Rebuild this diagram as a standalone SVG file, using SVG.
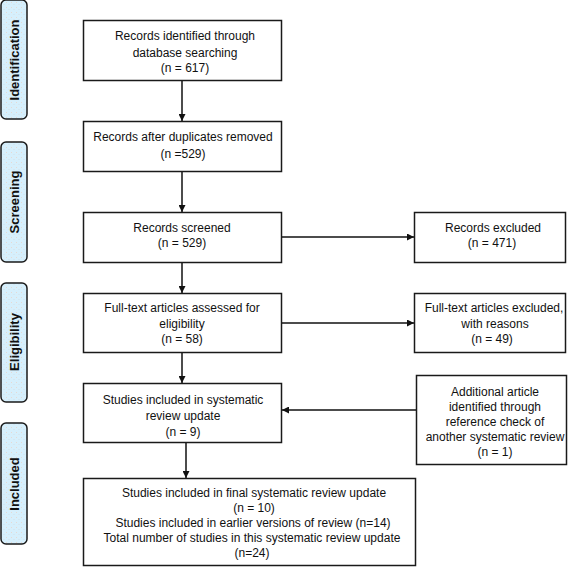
<svg xmlns="http://www.w3.org/2000/svg" width="568" height="568" viewBox="0 0 568 568">
<defs>
<pattern id="dots" width="5" height="5" patternUnits="userSpaceOnUse">
<rect width="5" height="5" fill="#d6effc"/>
<rect x="1" y="2" width="1" height="1" fill="#e6d9d2"/>
<rect x="3.5" y="4" width="1" height="1" fill="#cfe0e8"/>
</pattern>
<marker id="ah" viewBox="0 0 10 10" refX="10" refY="5" markerWidth="8" markerHeight="7" markerUnits="userSpaceOnUse" orient="auto">
<path d="M0,0 L10,5 L0,10 z" fill="#111"/>
</marker>
</defs>
<style>
.box{fill:#fff;stroke:#1a1a1a;stroke-width:1.5}
.side{fill:url(#dots);stroke:#1a1a1a;stroke-width:1.5}
.t{font-family:"Liberation Sans",Arial,sans-serif;font-size:12px;fill:#111;text-anchor:middle}
.s{font-family:"Liberation Sans",Arial,sans-serif;font-size:13px;font-weight:bold;fill:#111;text-anchor:middle}
.c{stroke:#111;stroke-width:1.5;fill:none;marker-end:url(#ah)}
</style>
<g id="side-identification"><rect class="side" x="1" y="0" width="26" height="119" rx="5"/><text class="s" transform="translate(18.5,60) rotate(-90)">Identification</text></g>
<g id="side-screening"><rect class="side" x="1" y="142" width="26" height="120" rx="5"/><text class="s" transform="translate(18.5,202) rotate(-90)">Screening</text></g>
<g id="side-eligibility"><rect class="side" x="1" y="283" width="26" height="119" rx="5"/><text class="s" transform="translate(18.5,342) rotate(-90)">Eligibility</text></g>
<g id="side-included"><rect class="side" x="1" y="423" width="26" height="121" rx="5"/><text class="s" transform="translate(18.5,484) rotate(-90)">Included</text></g>

<g id="n1"><rect class="box" x="83.5" y="20.5" width="198" height="60"/>
<text class="t" x="185" y="40">Records identified through</text>
<text class="t" x="185" y="57">database searching</text>
<text class="t" x="185" y="72">(n = 617)</text></g>

<g id="n2"><rect class="box" x="83.5" y="121.5" width="198" height="50"/>
<text class="t" x="183" y="141">Records after duplicates removed</text>
<text class="t" x="183" y="158">(n =529)</text></g>

<g id="n3"><rect class="box" x="83.5" y="212.5" width="198" height="50"/>
<text class="t" x="182" y="232">Records screened</text>
<text class="t" x="182" y="247">(n = 529)</text></g>

<g id="n4"><rect class="box" x="83.5" y="293.5" width="198" height="59"/>
<text class="t" x="182" y="312">Full-text articles assessed for</text>
<text class="t" x="182" y="328">eligibility</text>
<text class="t" x="182" y="343">(n = 58)</text></g>

<g id="n5"><rect class="box" x="83.5" y="383.5" width="198" height="59"/>
<text class="t" x="183" y="404">Studies included in systematic</text>
<text class="t" x="183" y="420">review update</text>
<text class="t" x="183" y="436">(n = 9)</text></g>

<g id="n6"><rect class="box" x="83.5" y="478.5" width="332" height="87"/>
<text class="t" x="254" y="497">Studies included in final systematic review update</text>
<text class="t" x="254" y="512">(n = 10)</text>
<text class="t" x="253" y="527">Studies included in earlier versions of review (n=14)</text>
<text class="t" x="252" y="542">Total number of studies in this systematic review update</text>
<text class="t" x="252" y="557">(n=24)</text></g>

<g id="n7"><rect class="box" x="414.5" y="212.5" width="151" height="50"/>
<text class="t" x="493" y="232">Records excluded</text>
<text class="t" x="492" y="247">(n = 471)</text></g>

<g id="n8"><rect class="box" x="414.5" y="293.5" width="151" height="59"/>
<text class="t" x="494" y="312">Full-text articles excluded,</text>
<text class="t" x="495" y="328">with reasons</text>
<text class="t" x="492" y="343">(n = 49)</text></g>

<g id="n9"><rect class="box" x="416.5" y="375.5" width="150" height="89"/>
<text class="t" x="495" y="396">Additional article</text>
<text class="t" x="495" y="411">identified through</text>
<text class="t" x="495" y="426">reference check of</text>
<text class="t" x="495" y="441">another systematic review</text>
<text class="t" x="495" y="456">(n = 1)</text></g>

<g id="connectors">
<line class="c" x1="182" y1="81" x2="182" y2="121"/>
<line class="c" x1="182" y1="172" x2="182" y2="212"/>
<line class="c" x1="182" y1="263" x2="182" y2="293"/>
<line class="c" x1="182" y1="353" x2="182" y2="383"/>
<line class="c" x1="186" y1="443" x2="186" y2="478"/>
<line class="c" x1="282" y1="237" x2="414" y2="237"/>
<line class="c" x1="282" y1="323" x2="414" y2="323"/>
<line class="c" x1="416" y1="410" x2="282" y2="410"/>
</g>
</svg>
